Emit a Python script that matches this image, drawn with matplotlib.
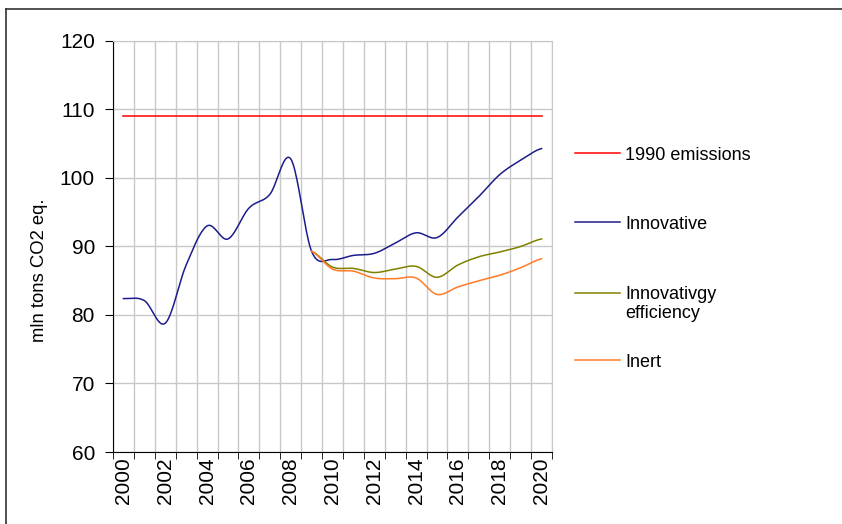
import numpy as np
import matplotlib.pyplot as plt
from matplotlib.lines import Line2D
from matplotlib.legend import Legend
from matplotlib.legend_handler import HandlerLine2D

years = np.arange(2000, 2021)
emissions_1990 = [109.0] * len(years)
innovative = [82.4, 82.1, 78.8, 87.3, 93.0, 91.1, 95.6, 97.6, 102.8, 89.3, 88.1,
              88.7, 89.0, 90.5, 92.0, 91.3, 94.3, 97.3, 100.5, 102.6, 104.3]
innov_efficiency = [np.nan] * 9 + [89.3, 87.0, 86.8, 86.2, 86.7, 87.1, 85.5,
                                   87.3, 88.5, 89.2, 90.0, 91.1]
inert = [np.nan] * 9 + [89.3, 86.7, 86.4, 85.4, 85.3, 85.4, 83.0,
                        84.1, 85.0, 85.8, 86.9, 88.2]

labels = ["1990 emissions", "Innovative", "Innovativgy\nefficiency", "Inert"]
colors = ["#ff0000", "#1c1c8c", "#808000", "#ff7a28"]


def smooth(x, y, n=20):
    # Excel-style smoothed line (Catmull-Rom through the yearly points)
    x = np.asarray(x, float)
    y = np.asarray(y, float)
    ok = ~np.isnan(y)
    x, y = x[ok], y[ok]
    xp = np.concatenate([[2 * x[0] - x[1]], x, [2 * x[-1] - x[-2]]])
    yp = np.concatenate([[y[0]], y, [y[-1]]])
    xs, ys = [], []
    t = np.linspace(0, 1, n, endpoint=False)
    for i in range(1, len(xp) - 2):
        for p, out in ((xp, xs), (yp, ys)):
            p0, p1, p2, p3 = p[i - 1], p[i], p[i + 1], p[i + 2]
            out.extend(0.5 * (2 * p1 + (-p0 + p2) * t
                              + (2 * p0 - 5 * p1 + 4 * p2 - p3) * t ** 2
                              + (-p0 + 3 * p1 - 3 * p2 + p3) * t ** 3))
    xs.append(x[-1])
    ys.append(y[-1])
    return xs, ys


class TopLineHandler(HandlerLine2D):
    # put the legend line next to the first line of a two-line label
    def __init__(self, shift, **kw):
        super().__init__(**kw)
        self.shift = shift

    def create_artists(self, legend, orig_handle, xdescent, ydescent, width, height, fontsize, trans):
        return super().create_artists(legend, orig_handle, xdescent, ydescent - 2 * self.shift,
                                      width, height, fontsize, trans)


plt.rcParams["font.family"] = ["Liberation Sans", "DejaVu Sans"]
fig = plt.figure(figsize=(8.42, 5.24), dpi=100)
ax = fig.add_axes([0.1342, 0.1374, 0.5214, 0.7844])

handles = []
for series, label, color in zip([emissions_1990, innovative, innov_efficiency, inert], labels, colors):
    sx, sy = smooth(years, series)
    h, = ax.plot(sx, sy, color=color, linewidth=1.1, label=label)
    handles.append(h)

ax.set_xlim(1999.5, 2020.5)
ax.set_ylim(60, 120)
ax.set_yticks(range(60, 121, 10))
ax.set_xticks(years[::2])
ax.set_xticks(np.arange(1999.5, 2021, 1), minor=True)
ax.tick_params(axis="x", which="major", length=0, labelsize=15, labelrotation=90, pad=4)
ax.tick_params(axis="x", which="minor", length=5, direction="out", color="black")
ax.tick_params(axis="y", length=6, direction="out", labelsize=15, pad=7)
ax.grid(True, axis="x", which="minor", color="#c8c8c8", linewidth=1)
ax.grid(True, axis="y", which="major", color="#c8c8c8", linewidth=1)
ax.set_axisbelow(True)
for side in ["top", "right"]:
    ax.spines[side].set_color("#c8c8c8")

fig.text(0.047, 0.484, "mln tons CO2 eq.", rotation=90, ha="center", va="center", fontsize=13.3)

# legend entries sit on an even grid next to the plot
row_y = [0.7225, 0.5546, 0.3867, 0.2188]
for h, label, y in zip(handles, labels, row_y):
    two_lines = "\n" in label
    anchor_y = y - (11 / 411 if two_lines else 0)
    hmap = {h: TopLineHandler(8)} if two_lines else None
    leg = Legend(ax, [h], [label], loc="center left", bbox_to_anchor=(1.052, anchor_y),
                 frameon=False, fontsize=13, handlelength=2.5, handletextpad=0.3,
                 borderpad=0, borderaxespad=0, handler_map=hmap)
    ax.add_artist(leg)

# outer chart border (only top and left edges are visible in the crop)
fig.add_artist(Line2D([0.007, 1.0], [0.983, 0.983], color="#333333", linewidth=1.2))
fig.add_artist(Line2D([0.007, 0.007], [0.0, 0.983], color="#333333", linewidth=1.2))

fig.savefig("out.png", dpi=100)
